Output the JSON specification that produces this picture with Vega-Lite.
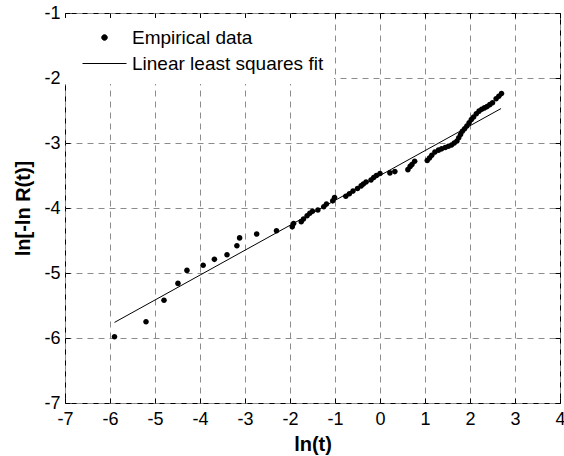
{
  "$schema": "https://vega.github.io/schema/vega-lite/v6.json",
  "width": 495,
  "height": 390,
  "autosize": "none",
  "padding": {"left": 65, "top": 13, "right": 4, "bottom": 53},
  "background": "white",
  "datasets": {
    "points": [
      {"x": -5.90, "y": -5.98, "series": "Empirical data"},
      {"x": -5.20, "y": -5.75, "series": "Empirical data"},
      {"x": -4.80, "y": -5.42, "series": "Empirical data"},
      {"x": -4.49, "y": -5.16, "series": "Empirical data"},
      {"x": -4.29, "y": -4.96, "series": "Empirical data"},
      {"x": -3.93, "y": -4.88, "series": "Empirical data"},
      {"x": -3.68, "y": -4.79, "series": "Empirical data"},
      {"x": -3.40, "y": -4.72, "series": "Empirical data"},
      {"x": -3.18, "y": -4.58, "series": "Empirical data"},
      {"x": -3.12, "y": -4.46, "series": "Empirical data"},
      {"x": -2.74, "y": -4.40, "series": "Empirical data"},
      {"x": -2.30, "y": -4.35, "series": "Empirical data"},
      {"x": -1.95, "y": -4.29, "series": "Empirical data"},
      {"x": -1.92, "y": -4.24, "series": "Empirical data"},
      {"x": -1.75, "y": -4.21, "series": "Empirical data"},
      {"x": -1.70, "y": -4.17, "series": "Empirical data"},
      {"x": -1.62, "y": -4.12, "series": "Empirical data"},
      {"x": -1.56, "y": -4.08, "series": "Empirical data"},
      {"x": -1.50, "y": -4.05, "series": "Empirical data"},
      {"x": -1.38, "y": -4.03, "series": "Empirical data"},
      {"x": -1.25, "y": -3.98, "series": "Empirical data"},
      {"x": -1.19, "y": -3.94, "series": "Empirical data"},
      {"x": -1.05, "y": -3.89, "series": "Empirical data"},
      {"x": -1.01, "y": -3.84, "series": "Empirical data"},
      {"x": -0.76, "y": -3.82, "series": "Empirical data"},
      {"x": -0.68, "y": -3.78, "series": "Empirical data"},
      {"x": -0.60, "y": -3.74, "series": "Empirical data"},
      {"x": -0.50, "y": -3.70, "series": "Empirical data"},
      {"x": -0.42, "y": -3.66, "series": "Empirical data"},
      {"x": -0.37, "y": -3.63, "series": "Empirical data"},
      {"x": -0.31, "y": -3.60, "series": "Empirical data"},
      {"x": -0.20, "y": -3.57, "series": "Empirical data"},
      {"x": -0.14, "y": -3.53, "series": "Empirical data"},
      {"x": -0.08, "y": -3.50, "series": "Empirical data"},
      {"x": 0.00, "y": -3.47, "series": "Empirical data"},
      {"x": 0.22, "y": -3.46, "series": "Empirical data"},
      {"x": 0.33, "y": -3.44, "series": "Empirical data"},
      {"x": 0.62, "y": -3.41, "series": "Empirical data"},
      {"x": 0.67, "y": -3.36, "series": "Empirical data"},
      {"x": 0.71, "y": -3.33, "series": "Empirical data"},
      {"x": 0.77, "y": -3.28, "series": "Empirical data"},
      {"x": 1.05, "y": -3.27, "series": "Empirical data"},
      {"x": 1.10, "y": -3.23, "series": "Empirical data"},
      {"x": 1.15, "y": -3.19, "series": "Empirical data"},
      {"x": 1.22, "y": -3.14, "series": "Empirical data"},
      {"x": 1.30, "y": -3.11, "series": "Empirical data"},
      {"x": 1.37, "y": -3.09, "series": "Empirical data"},
      {"x": 1.45, "y": -3.07, "series": "Empirical data"},
      {"x": 1.52, "y": -3.05, "series": "Empirical data"},
      {"x": 1.59, "y": -3.03, "series": "Empirical data"},
      {"x": 1.65, "y": -3.00, "series": "Empirical data"},
      {"x": 1.71, "y": -2.97, "series": "Empirical data"},
      {"x": 1.75, "y": -2.92, "series": "Empirical data"},
      {"x": 1.79, "y": -2.87, "series": "Empirical data"},
      {"x": 1.83, "y": -2.82, "series": "Empirical data"},
      {"x": 1.88, "y": -2.78, "series": "Empirical data"},
      {"x": 1.93, "y": -2.74, "series": "Empirical data"},
      {"x": 1.98, "y": -2.69, "series": "Empirical data"},
      {"x": 2.03, "y": -2.64, "series": "Empirical data"},
      {"x": 2.08, "y": -2.60, "series": "Empirical data"},
      {"x": 2.14, "y": -2.55, "series": "Empirical data"},
      {"x": 2.20, "y": -2.51, "series": "Empirical data"},
      {"x": 2.26, "y": -2.48, "series": "Empirical data"},
      {"x": 2.32, "y": -2.46, "series": "Empirical data"},
      {"x": 2.38, "y": -2.44, "series": "Empirical data"},
      {"x": 2.44, "y": -2.41, "series": "Empirical data"},
      {"x": 2.50, "y": -2.38, "series": "Empirical data"},
      {"x": 2.58, "y": -2.32, "series": "Empirical data"},
      {"x": 2.64, "y": -2.28, "series": "Empirical data"},
      {"x": 2.70, "y": -2.24, "series": "Empirical data"}
    ],
    "fit": [
      {"x": -5.90, "y": -5.76, "series": "Linear least squares fit"},
      {"x": 2.69, "y": -2.47, "series": "Linear least squares fit"}
    ]
  },
  "config": {
    "font": "Liberation Sans",
    "view": {"stroke": "black", "strokeWidth": 1},
    "axis": {
      "domain": false,
      "grid": true,
      "gridColor": "#8c8c8c",
      "gridDash": [6, 5],
      "gridWidth": 1,
      "tickColor": "black",
      "tickSize": -5,
      "labelFont": "Liberation Sans",
      "labelFontSize": 18,
      "labelColor": "black",
      "labelExpr": "'' + datum.value",
      "titleFont": "Liberation Sans",
      "titleFontSize": 20,
      "titleFontWeight": "bold",
      "titleColor": "black"
    },
    "legend": {
      "orient": "none", "legendX": 0, "legendY": 5, "title": null,
      "fillColor": "white", "padding": 10,
      "labelFontSize": 19, "labelFont": "Liberation Sans", "labelColor": "black", "labelLimit": 0,
      "symbolSize": 100, "rowPadding": 6, "labelOffset": 18, "symbolOffset": 20,
      "symbolStrokeColor": "black", "symbolStrokeWidth": 1
    }
  },
  "layer": [
    {
      "data": {"name": "points"},
      "mark": {"type": "point", "filled": true, "opacity": 1, "size": 100},
      "encoding": {
        "x": {
          "field": "x", "type": "quantitative",
          "scale": {"domain": [-7, 4], "nice": false, "zero": false},
          "axis": {"orient": "bottom", "values": [-7, -6, -5, -4, -3, -2, -1, 0, 1, 2, 3, 4], "title": "ln(t)", "labelPadding": 12, "titlePadding": 6, "labelFlush": false}
        },
        "y": {
          "field": "y", "type": "quantitative",
          "scale": {"domain": [-7, -1], "nice": false, "zero": false},
          "axis": {"orient": "left", "values": [-7, -6, -5, -4, -3, -2, -1], "title": "ln[-ln R(t)]", "labelPadding": 10, "titlePadding": 10, "labelFlush": false}
        },
        "color": {
          "field": "series", "type": "nominal",
          "scale": {"domain": ["Empirical data", "Linear least squares fit"], "range": ["black", "black"]},
          "legend": {"orient": "none", "legendX": 0, "legendY": 5, "title": null}
        },
        "shape": {
          "field": "series", "type": "nominal",
          "scale": {"domain": ["Empirical data", "Linear least squares fit"], "range": ["M0.56,0A0.56,0.56,0,1,1,-0.56,0A0.56,0.56,0,1,1,0.56,0Z", "M-4.4,0H4.4"]},
          "legend": {"orient": "none", "legendX": 0, "legendY": 5, "title": null}
        }
      }
    },
    {
      "data": {"name": "fit"},
      "mark": {"type": "line", "strokeWidth": 1},
      "encoding": {
        "x": {
          "field": "x", "type": "quantitative",
          "scale": {"domain": [-7, 4], "nice": false, "zero": false},
          "axis": {"orient": "top", "values": [-7, -6, -5, -4, -3, -2, -1, 0, 1, 2, 3, 4], "labels": false, "grid": false, "title": null}
        },
        "y": {
          "field": "y", "type": "quantitative",
          "scale": {"domain": [-7, -1], "nice": false, "zero": false},
          "axis": {"orient": "right", "values": [-7, -6, -5, -4, -3, -2, -1], "labels": false, "grid": false, "title": null}
        },
        "color": {"field": "series", "type": "nominal", "legend": null}
      }
    }
  ],
  "resolve": {"axis": {"x": "independent", "y": "independent"}}
}
